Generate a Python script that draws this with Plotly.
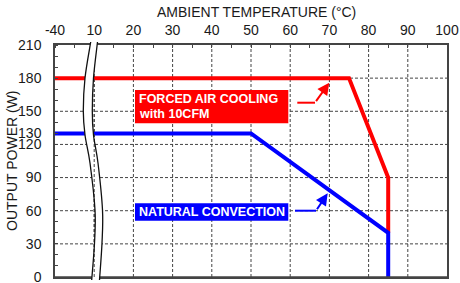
import plotly.graph_objects as go

# ---- data ----
temp_ticks = [-40, 10, 20, 30, 40, 50, 60, 70, 80, 90, 100]
power_ticks = [0, 30, 60, 90, 120, 130, 150, 180, 210]
grid_power = [30, 60, 90, 120, 150, 180]
forced_temp = [-40, 75, 85, 85]
forced_power = [180, 180, 90, 40]
natural_temp = [-40, 50, 85, 85]
natural_power = [130, 130, 40, 0]


def tx(t):
    # broken axis: -40..10 compressed into one division
    return (t + 40) / 50 if t < 10 else t / 10


FONT = "Liberation Sans, Arial, sans-serif"
TXT = "#1a1a1a"
GRID = dict(color="#444", width=1, dash="3px,2px")

# pixel geometry of plot area (window pixels)
L, R, T, B = 55, 447, 45, 277
W_FIG, H_FIG = 460, 283


def px2paper(px, py):
    return (px - L) / (R - L), (B - py) / (B - T)


def px2data(px, py):
    return (px - L) / 39.2, (B - py) / ((B - T) / 210)


def cr_segments(pts):
    s = ""
    n = len(pts)
    for i in range(n - 1):
        p0 = pts[i - 1] if i > 0 else pts[i]
        p1 = pts[i]
        p2 = pts[i + 1]
        p3 = pts[i + 2] if i + 2 < n else pts[i + 1]
        c1 = (p1[0] + (p2[0] - p0[0]) / 6, p1[1] + (p2[1] - p0[1]) / 6)
        c2 = (p2[0] - (p3[0] - p1[0]) / 6, p2[1] - (p3[1] - p1[1]) / 6)
        s += f" C {c1[0]:.5f},{c1[1]:.5f} {c2[0]:.5f},{c2[1]:.5f} {p2[0]:.5f},{p2[1]:.5f}"
    return s


left_px = [(90.7, 42), (85, 78), (83.3, 111), (85, 135), (90, 163), (95, 210), (94.5, 243), (91.7, 280)]
right_px = [(97.5, 42), (93.5, 78), (92.3, 111), (93.5, 135), (98, 163), (102.5, 210), (102, 243), (99.5, 280)]
left_p = [px2paper(*p) for p in left_px]
right_p = [px2paper(*p) for p in right_px]


def open_path(pts):
    return f"M {pts[0][0]:.5f},{pts[0][1]:.5f}" + cr_segments(pts)


rr = right_p[::-1]
fill_path = open_path(left_p) + f" L {rr[0][0]:.5f},{rr[0][1]:.5f}" + cr_segments(rr) + " Z"

fig = go.Figure()
fig.add_trace(go.Scatter(x=[tx(t) for t in forced_temp], y=forced_power, mode="lines",
                         line=dict(color="#ff0000", width=4), showlegend=False, hoverinfo="skip"))
fig.add_trace(go.Scatter(x=[tx(t) for t in natural_temp], y=natural_power, mode="lines",
                         line=dict(color="#0000ff", width=4), showlegend=False, hoverinfo="skip"))

shapes = []
# grid lines (below traces)
for t in temp_ticks[1:-1]:
    shapes.append(dict(type="line", xref="x", yref="paper", x0=tx(t), x1=tx(t), y0=0, y1=1,
                       line=GRID, layer="below"))
for p in grid_power:
    shapes.append(dict(type="line", xref="paper", yref="y", x0=0, x1=1, y0=p, y1=p,
                       line=GRID, layer="below"))
# bottom frame (explicit)
shapes.append(dict(type="line", xref="paper", yref="paper", x0=0, x1=1, y0=0, y1=0,
                   line=dict(color="#444", width=1.5), layer="above"))
# break band
shapes.append(dict(type="path", xref="paper", yref="paper", path=fill_path,
                   fillcolor="white", line=dict(width=0), layer="above"))
# grid line at 10 visible through break
shapes.append(dict(type="line", xref="x", yref="y", x0=tx(10), x1=tx(10), y0=0, y1=182,
                   line=GRID, layer="above"))
for pts in (left_p, right_p):
    shapes.append(dict(type="path", xref="paper", yref="paper", path=open_path(pts),
                       fillcolor="rgba(0,0,0,0)", line=dict(color="#111", width=1.3), layer="above"))

# label boxes
x0, y0 = px2data(135, 90)
x1, y1 = px2data(288.3, 123.3)
shapes.append(dict(type="rect", xref="x", yref="y", x0=x0, x1=x1, y0=y1, y1=y0,
                   fillcolor="#ff0000", line=dict(width=0), layer="above"))
x0, y0 = px2data(135, 203.3)
x1, y1 = px2data(288.3, 220.7)
shapes.append(dict(type="rect", xref="x", yref="y", x0=x0, x1=x1, y0=y1, y1=y0,
                   fillcolor="#0000ff", line=dict(width=0), layer="above"))
# arrow horizontal segments
a, b = px2data(297.3, 102.7)
c, d = px2data(315, 102.7)
shapes.append(dict(type="line", xref="x", yref="y", x0=a, y0=b, x1=c, y1=d,
                   line=dict(color="#ff0000", width=2), layer="above"))
red_elbow = (c, d)
a, b = px2data(295, 210.7)
c, d = px2data(316, 210.7)
shapes.append(dict(type="line", xref="x", yref="y", x0=a, y0=b, x1=c, y1=d,
                   line=dict(color="#0000ff", width=2), layer="above"))
blue_elbow = (c, d)

annotations = []
red_tip = px2data(329.3, 82.7)
blue_tip = px2data(327.7, 193.3)
for tip, elbow, col in ((red_tip, red_elbow, "#ff0000"), (blue_tip, blue_elbow, "#0000ff")):
    annotations.append(dict(x=tip[0], y=tip[1], ax=elbow[0], ay=elbow[1], xref="x", yref="y",
                            axref="x", ayref="y", text="", showarrow=True, arrowhead=2,
                            arrowsize=1.2, arrowwidth=2, arrowcolor=col, standoff=0))

lbl_font = dict(family=FONT, size=12.5, color="white")
for txt, py in (("<b>FORCED AIR COOLING</b>", 98.7), ("<b>with 10CFM</b>", 114)):
    x, y = px2data(137, py)
    annotations.append(dict(x=x, y=y, xref="x", yref="y", text=txt, showarrow=False,
                            xanchor="left", yanchor="middle", font=lbl_font))
x, y = px2data(136.5, 212)
annotations.append(dict(x=x, y=y, xref="x", yref="y", text="<b>NATURAL CONVECTION</b>", showarrow=False,
                        xanchor="left", yanchor="middle", font=lbl_font))

# axis titles
px, py = px2paper(256, 12)
annotations.append(dict(x=px, y=py, xref="paper", yref="paper", text="AMBIENT TEMPERATURE (°C)",
                        showarrow=False, xanchor="center", yanchor="middle",
                        font=dict(family=FONT, size=14, color=TXT)))
px, py = px2paper(12, 161)
annotations.append(dict(x=px, y=py, xref="paper", yref="paper", text="OUTPUT POWER (W)",
                        showarrow=False, xanchor="center", yanchor="middle", textangle=-90,
                        font=dict(family=FONT, size=14, color=TXT)))

fig.update_layout(
    width=W_FIG, height=H_FIG,
    margin=dict(l=L, r=W_FIG - R, t=T, b=H_FIG - B, autoexpand=False),
    paper_bgcolor="white", plot_bgcolor="white",
    font=dict(family=FONT, size=14, color=TXT),
    shapes=shapes, annotations=annotations, showlegend=False,
)
fig.update_xaxes(
    side="top", range=[0, 10], tickmode="array", automargin=False,
    tickvals=[tx(t) for t in temp_ticks], ticktext=[str(t) for t in temp_ticks],
    showgrid=False, ticklabeloverflow="allow",
    showline=True, linecolor="#444", linewidth=1.5, mirror=True,
    ticks="", ticklabelstandoff=3, zeroline=False,
    minor=dict(tickmode="linear", tick0=0, dtick=0.5, ticks="inside", ticklen=3,
               tickcolor="#444", showgrid=False),
    tickfont=dict(family=FONT, size=14, color=TXT), fixedrange=True,
)
fig.update_yaxes(
    range=[0, 210], tickmode="array", tickvals=power_ticks, automargin=False,
    ticktext=[str(v) for v in power_ticks],
    showgrid=False, ticklabeloverflow="allow",
    showline=True, linecolor="#444", linewidth=1.5, mirror=True,
    ticks="", ticklabelstandoff=9, zeroline=False,
    minor=dict(tickmode="linear", tick0=0, dtick=10, ticks="inside", ticklen=3,
               tickcolor="#444", showgrid=False),
    tickfont=dict(family=FONT, size=14, color=TXT), fixedrange=True,
)

fig.write_html(
    "out.html",
    config={"displayModeBar": False},
    post_script="document.body.style.margin='0';document.body.style.overflow='hidden';",
)
